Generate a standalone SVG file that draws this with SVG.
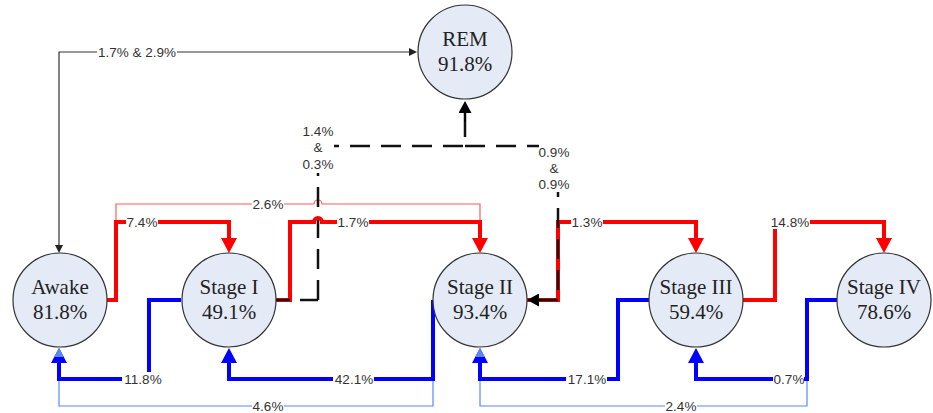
<svg xmlns="http://www.w3.org/2000/svg" xmlns:xlink="http://www.w3.org/1999/xlink" width="933" height="413" viewBox="0 0 933 413">
<style>
.node{fill:#e4eaf6;stroke:#333;stroke-width:1.2}
.nt{font-family:"Liberation Serif","Times New Roman",serif;font-size:21px;fill:#222;text-anchor:middle}
.lb{font-family:"Liberation Sans",Arial,sans-serif;font-size:13.5px;fill:#333;text-anchor:middle}
.bg{fill:#fff}
.red{fill:none;stroke:#ff0000;stroke-width:4;marker-end:url(#arR)}
.redt{fill:none;stroke:#ff5a5a;stroke-width:1.2}
.blue{fill:none;stroke:#0000ff;stroke-width:4;marker-end:url(#arB)}
.bluet{fill:none;stroke:#5b86ff;stroke-width:1.2}
.blk{fill:none;stroke:#333;stroke-width:1.2;marker-start:url(#arK);marker-end:url(#arK)}
.dash{fill:none;stroke:#111;stroke-width:2.5;stroke-dasharray:20 11}
</style>
<defs>
<marker id="arR" viewBox="0 0 15 16" refX="0" refY="8" markerWidth="15" markerHeight="16" markerUnits="userSpaceOnUse" orient="auto"><path d="M0,0 L15,8 L0,16 Z" fill="#ff0000"/></marker>
<marker id="arB" viewBox="0 0 15 16" refX="0" refY="8" markerWidth="15" markerHeight="16" markerUnits="userSpaceOnUse" orient="auto"><path d="M0,0 L15,8 L0,16 Z" fill="#0000ff"/></marker>
<marker id="arK" viewBox="0 0 8 8" refX="0" refY="4" markerWidth="8" markerHeight="8" markerUnits="userSpaceOnUse" orient="auto-start-reverse"><path d="M0,0 L8,4 L0,8 Z" fill="#222"/></marker>
<marker id="arD" viewBox="0 0 12 13" refX="0" refY="6.5" markerWidth="12" markerHeight="13" markerUnits="userSpaceOnUse" orient="auto"><path d="M0,0 L12,6.5 L0,13 Z" fill="#000"/></marker>
<path id="tipL" d="M-5,0 L0,-9 L5,0 Z" fill="#5b86ff"/>
</defs>

<g id="connectors">
  <path class="redt" d="M116,222 V204 H314 A4,4 0 0 1 322,204 H480 V240"/>
  <path class="bluet" d="M433,379 V406 H59 V360"/>
  <path class="bluet" d="M807,379 V406 H480 V360"/>
  <path class="blk" d="M59,245 V52 H409"/>
  <path class="dash" d="M318,300 V146 H465 V122"/>
  <path fill="none" stroke="#000" stroke-width="2.5" d="M465,122 V113" marker-end="url(#arD)"/>
  <path class="red" d="M107,300 H116 V222 H229 V238"/>
  <path class="red" d="M276,300 H290 V222 H314 A4,4 0 0 1 322,222 H480 V238"/>
  <path class="red" d="M527,300 H558 V222 H696 V238"/>
  <path class="red" d="M743,300 H775 V222 H884 V238"/>
  <path fill="none" stroke="#111" stroke-width="2.5" d="M276,300 H290"/>
  <path fill="none" stroke="#111" stroke-width="2.5" d="M300,300 H318"/>
  <path class="dash" d="M465,146 H558 V300"/>
  <path fill="none" stroke="#000" stroke-width="2.5" d="M558,300 H539" marker-end="url(#arD)"/>
  <path class="blue" d="M181,300 H149 V379 H59 V363"/>
  <path class="blue" d="M433,300 V379 H229 V363"/>
  <path class="blue" d="M649,300 H618 V379 H480 V363"/>
  <path class="blue" d="M837,300 H807 V379 H696 V363"/>
  <use xlink:href="#tipL" x="59" y="357"/>
  <use xlink:href="#tipL" x="480" y="357"/>

  <rect class="bg" x="97" y="45" width="80" height="14"/>
  <text class="lb" x="137" y="56.7">1.7% &amp; 2.9%</text>
  <rect class="bg" x="126" y="215" width="32" height="14"/>
  <text class="lb" x="142" y="226.7">7.4%</text>
  <rect class="bg" x="252" y="197" width="32" height="14"/>
  <text class="lb" x="268" y="208.7">2.6%</text>
  <rect class="bg" x="337" y="215" width="32" height="14"/>
  <text class="lb" x="353" y="226.7">1.7%</text>
  <rect class="bg" x="571" y="215" width="32" height="14"/>
  <text class="lb" x="587" y="226.7">1.3%</text>
  <rect class="bg" x="769" y="215" width="41" height="14"/>
  <text class="lb" x="790" y="226.7">14.8%</text>
  <rect class="bg" x="122" y="372" width="41" height="14"/>
  <text class="lb" x="143" y="383.7">11.8%</text>
  <rect class="bg" x="333" y="372" width="41" height="14"/>
  <text class="lb" x="354" y="383.7">42.1%</text>
  <rect class="bg" x="566" y="372" width="41" height="14"/>
  <text class="lb" x="587" y="383.7">17.1%</text>
  <rect class="bg" x="773" y="372" width="31" height="14"/>
  <text class="lb" x="789" y="383.7">0.7%</text>
  <rect class="bg" x="252" y="399" width="32" height="14"/>
  <text class="lb" x="268" y="410.5">4.6%</text>
  <rect class="bg" x="665" y="399" width="32" height="14"/>
  <text class="lb" x="681" y="410.5">2.4%</text>
  <rect class="bg" x="302" y="123" width="32" height="50"/>
  <text class="lb" x="318" y="135.7">1.4%</text>
  <text class="lb" x="318" y="151.7">&amp;</text>
  <text class="lb" x="318" y="168.7">0.3%</text>
  <rect class="bg" x="539" y="144" width="32" height="48"/>
  <text class="lb" x="554" y="156.7">0.9%</text>
  <text class="lb" x="554" y="172.7">&amp;</text>
  <text class="lb" x="554" y="188.7">0.9%</text>
</g>

<g id="rem"><circle class="node" cx="465" cy="52" r="47"/><text class="nt" x="465" y="46">REM</text><text class="nt" x="465" y="71">91.8%</text></g>
<g id="awake"><circle class="node" cx="60" cy="300" r="47"/><text class="nt" x="60" y="294">Awake</text><text class="nt" x="60" y="319">81.8%</text></g>
<g id="stage1"><circle class="node" cx="229" cy="300" r="47"/><text class="nt" x="229" y="294">Stage I</text><text class="nt" x="229" y="319">49.1%</text></g>
<g id="stage2"><circle class="node" cx="480" cy="300" r="47"/><text class="nt" x="480" y="294">Stage II</text><text class="nt" x="480" y="319">93.4%</text></g>
<g id="stage3"><circle class="node" cx="696" cy="300" r="47"/><text class="nt" x="696" y="294">Stage III</text><text class="nt" x="696" y="319">59.4%</text></g>
<g id="stage4"><circle class="node" cx="884" cy="300" r="47"/><text class="nt" x="884" y="294">Stage IV</text><text class="nt" x="884" y="319">78.6%</text></g>
</svg>
